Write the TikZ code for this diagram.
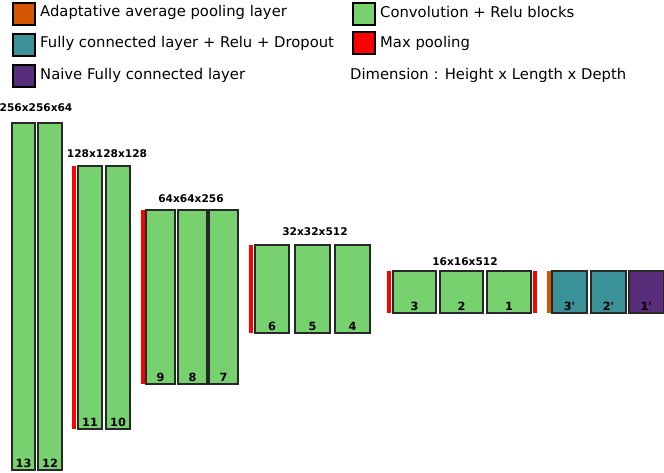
\documentclass[tikz,border=0pt]{standalone}
\usepackage{fontspec}
\setmainfont{DejaVu Sans}
\definecolor{convgreen}{RGB}{119,209,110}
\definecolor{poolred}{RGB}{255,0,0}
\definecolor{avgorange}{RGB}{212,85,0}
\definecolor{fcteal}{RGB}{58,146,152}
\definecolor{fcpurple}{RGB}{88,46,122}
\definecolor{edgegray}{RGB}{40,40,40}
\tikzset{
  blockbox/.style={draw=edgegray, line width=1.2pt, inner sep=0pt, outer sep=0pt, anchor=north west},
  conv/.style={blockbox, fill=convgreen},
  fcrelu/.style={blockbox, fill=fcteal},
  fcnaive/.style={blockbox, fill=fcpurple},
  barbox/.style={inner sep=0pt, outer sep=0pt, anchor=north west, draw=none},
  maxpool/.style={barbox, fill=poolred},
  avgpool/.style={barbox, fill=avgorange},
  num/.style={font=\fontsize{11.3}{13}\selectfont\bfseries, anchor=south, inner sep=1pt},
  dimlabel/.style={font=\fontsize{10.6}{12}\selectfont\bfseries, inner sep=0pt},
  legbox/.style={draw=black, line width=1.6pt, inner sep=0pt, minimum width=22pt, minimum height=22pt, anchor=north west},
  legtext/.style={font=\fontsize{14.8}{17}\selectfont, anchor=west, inner sep=0pt},
}
\newcommand\layerbox[7]{%
  \node[#1, minimum width={(#5-#3)*1pt}, minimum height={(#6-#4)*1pt}] (#2) at (#3,#4) {};
  \node[num] (#2-l) at ([yshift=1pt]#2.south) {#7};
}
\newcommand\poolbar[6]{%
  \node[#1, minimum width={(#5-#3)*1pt}, minimum height={(#6-#4)*1pt}] (#2) at (#3,#4) {};
}
\begin{document}
\begin{tikzpicture}[x=1pt,y=-1pt]
\useasboundingbox[fill=white] (0,0) rectangle (664,473);
% legend
\node[legbox, fill=avgorange] (lg1) at (12,2) {};
\node[legtext] (lt1) at (40,12) {Adaptative average pooling layer};
\node[legbox, fill=fcteal] (lg2) at (12,33) {};
\node[legtext] (lt2) at (40,43) {Fully connected layer + Relu + Dropout};
\node[legbox, fill=fcpurple] (lg3) at (12,64) {};
\node[legtext] (lt3) at (40,75) {Naive Fully connected layer};
\node[legbox, fill=convgreen] (lg4) at (352,2) {};
\node[legtext] (lt4) at (380,12) {Convolution + Relu blocks};
\node[legbox, fill=poolred] (lg5) at (352,31) {};
\node[legtext] (lt5) at (380,43) {Max pooling};
\node[legtext] (lt6) at (350,75) {Dimension : Height x Length x Depth};
% stage 1
\node[dimlabel] (d1) at (36,108) {256x256x64};
\layerbox{conv}{b13}{12}{123}{35}{470}{13}
\layerbox{conv}{b12}{38}{123}{62}{470}{12}
% stage 2
\node[dimlabel] (d2) at (107,154) {128x128x128};
\poolbar{maxpool}{p1}{72}{166}{76}{429}
\layerbox{conv}{b11}{78}{166}{102}{429}{11}
\layerbox{conv}{b10}{106}{166}{130}{429}{10}
% stage 3
\node[dimlabel] (d3) at (191,199) {64x64x256};
\poolbar{maxpool}{p2}{141}{210}{145}{384}
\layerbox{conv}{b9}{146}{210}{175}{384}{9}
\layerbox{conv}{b8}{178}{210}{207}{384}{8}
\layerbox{conv}{b7}{209}{210}{238}{384}{7}
% stage 4
\node[dimlabel] (d4) at (315,232) {32x32x512};
\poolbar{maxpool}{p3}{249}{245}{253}{333}
\layerbox{conv}{b6}{255}{245}{289}{333}{6}
\layerbox{conv}{b5}{295}{245}{330}{333}{5}
\layerbox{conv}{b4}{335}{245}{370}{333}{4}
% stage 5
\node[dimlabel] (d5) at (465,262) {16x16x512};
\poolbar{maxpool}{p4}{387}{271}{391}{313}
\layerbox{conv}{b3}{393}{271}{436}{313}{3}
\layerbox{conv}{b2}{440}{271}{483}{313}{2}
\layerbox{conv}{b1}{487}{271}{531}{313}{1}
\poolbar{maxpool}{p5}{533}{271}{537}{313}
% classifier
\poolbar{avgpool}{a1}{547}{271}{551}{313}
\layerbox{fcrelu}{f3}{552}{271}{587}{313}{3\textquotesingle}
\layerbox{fcrelu}{f2}{591}{271}{626}{313}{2\textquotesingle}
\layerbox{fcnaive}{f1}{629}{271}{663.5}{313}{1\textquotesingle}
\end{tikzpicture}
\end{document}
